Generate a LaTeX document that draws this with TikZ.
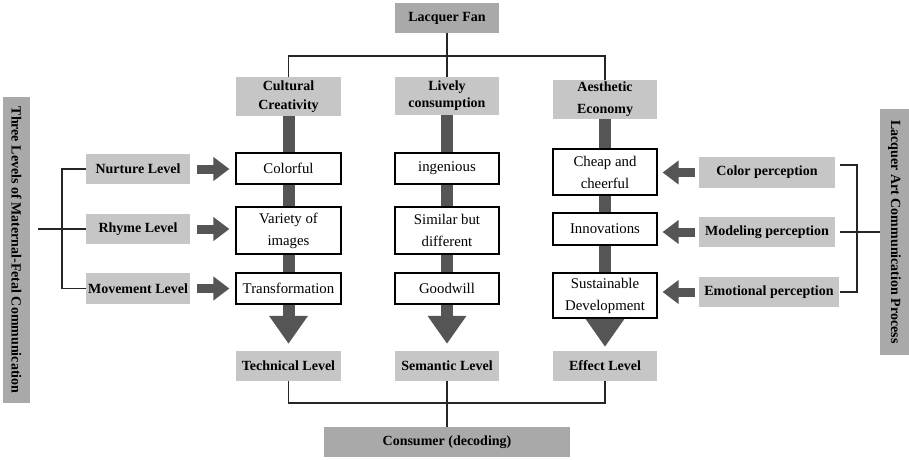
\documentclass[tikz,border=0pt]{standalone}
\usepackage{fontspec}
\setmainfont{Liberation Serif}
\usetikzlibrary{arrows.meta}
\definecolor{lgray}{HTML}{C6C6C6}
\definecolor{dgray}{HTML}{A9A9A9}
\definecolor{barc}{HTML}{555555}
\begin{document}
\begin{tikzpicture}[x=1pt,y=-1pt,
  gbox/.style={rectangle, fill=lgray, inner sep=0pt, align=center, font=\fontsize{14}{19}\selectfont\bfseries},
  dbox/.style={gbox, fill=dgray},
  wbox/.style={rectangle, draw=black, line width=1.2pt, fill=white, inner sep=0pt, align=center, font=\fontsize{14.8}{22}\selectfont},
  link/.style={line width=1.3pt, draw=black!85},
  barl/.style={line width=12pt, draw=barc},
  bigarrow/.style={line width=12pt, draw=barc, -{Triangle[width=37pt,length=28pt]}},
  sidearrow/.style={line width=9pt, draw=barc, -{Triangle[width=23pt,length=16pt]}}
]
\useasboundingbox (0,0) rectangle (909,459);
\fill[white] (0,0) rectangle (909,459);

% top
\node[dbox, minimum width=104pt, minimum height=30pt] (fan) at (447,18) {Lacquer Fan};
\node[gbox, minimum width=105pt, minimum height=39pt] (cc) at (288.5,96.5) {Cultural\\Creativity};
\node[gbox, minimum width=104pt, minimum height=38pt, font=\fontsize{14}{17}\selectfont\bfseries] (lc) at (447,96) {Lively\\consumption};
\node[gbox, minimum width=104pt, minimum height=39pt, font=\fontsize{14}{22}\selectfont\bfseries] (ae) at (605,99.5) {Aesthetic\\Economy};

% white boxes
\node[wbox, minimum width=105pt, minimum height=31pt] (colorful) at (288.5,168.5) {Colorful};
\node[wbox, minimum width=104pt, minimum height=31pt] (ingen) at (447,168.5) {ingenious};
\node[wbox, minimum width=104pt, minimum height=46pt] (cheap) at (605,172) {Cheap and\\cheerful};
\node[wbox, minimum width=105pt, minimum height=47pt] (variety) at (288.5,230.5) {Variety of\\images};
\node[wbox, minimum width=104pt, minimum height=47pt] (similar) at (447,230.5) {Similar but\\different};
\node[wbox, minimum width=104pt, minimum height=32pt] (innov) at (605,229) {Innovations};
\node[wbox, minimum width=105pt, minimum height=31pt] (trans) at (288.5,288.5) {Transformation};
\node[wbox, minimum width=104pt, minimum height=31pt] (goodwill) at (447,288.5) {Goodwill};
\node[wbox, minimum width=104pt, minimum height=45pt] (sust) at (605,295.5) {Sustainable\\Development};

% levels
\node[gbox, minimum width=105pt, minimum height=30pt] (tech) at (288.5,366) {Technical Level};
\node[gbox, minimum width=104pt, minimum height=30pt] (sem) at (447,366) {Semantic Level};
\node[gbox, minimum width=104pt, minimum height=30pt] (eff) at (605,366) {Effect Level};
\node[dbox, minimum width=246pt, minimum height=30pt] (cons) at (447,442) {Consumer (decoding)};

% left side
\node[gbox, minimum width=104pt, minimum height=30pt] (nurture) at (138,169) {Nurture Level};
\node[gbox, minimum width=104pt, minimum height=30pt] (rhyme) at (138,229) {Rhyme Level};
\node[gbox, minimum width=104pt, minimum height=31pt] (move) at (138,288.5) {Movement Level};
\node[dbox, minimum width=306pt, minimum height=27pt, rotate=-90] (leftlab) at (16.5,250) {Three Levels of Maternal-Fetal Communication};

% right side
\node[gbox, minimum width=136pt, minimum height=31pt] (colp) at (767,172.5) {Color perception};
\node[gbox, minimum width=136pt, minimum height=30pt] (modp) at (767,232) {Modeling perception};
\node[gbox, minimum width=140pt, minimum height=30pt] (emop) at (769,292) {Emotional perception};
\node[dbox, minimum width=246pt, minimum height=29pt, rotate=-90] (rightlab) at (894.5,232) {Lacquer Art Communication Process};

% top connectors
\coordinate (topj) at (447,56);
\draw[link] (fan.south) -- (lc.north);
\draw[link] (cc.north) |- (topj) -| (ae.north);

% bottom connectors
\coordinate (botj) at (447,403);
\draw[link] (tech.south) |- (botj) -| (eff.south);
\draw[link] (sem.south) -- (cons.north);

% bars
\draw[barl] (cc.south) -- (colorful.north);
\draw[barl] (colorful.south) -- (variety.north);
\draw[barl] (variety.south) -- (trans.north);
\draw[barl] (lc.south) -- (ingen.north);
\draw[barl] (ingen.south) -- (similar.north);
\draw[barl] (similar.south) -- (goodwill.north);
\draw[barl] (ae.south) -- (cheap.north);
\draw[barl] (cheap.south) -- (innov.north);
\draw[barl] (innov.south) -- (sust.north);

% big arrows
\draw[bigarrow, shorten >=7pt] (trans.south) -- (tech.north);
\draw[bigarrow, shorten >=7pt] (goodwill.south) -- (sem.north);
\draw[bigarrow, shorten >=4pt] (sust.south) -- (eff.north);

% side arrows left
\draw[sidearrow, shorten <=7pt, shorten >=6pt] (nurture.east) -- (nurture.east -| colorful.west);
\draw[sidearrow, shorten <=7pt, shorten >=6pt] (rhyme.east) -- (rhyme.east -| variety.west);
\draw[sidearrow, shorten <=7pt, shorten >=6pt] (move.east) -- (move.east -| trans.west);

% side arrows right
\draw[sidearrow, shorten <=4pt, shorten >=5pt] (colp.west) -- (colp.west -| cheap.east);
\draw[sidearrow, shorten <=4pt, shorten >=5pt] (modp.west) -- (modp.west -| innov.east);
\draw[sidearrow, shorten <=4pt, shorten >=5pt] (emop.west) -- (emop.west -| sust.east);

% left bracket
\coordinate (lv) at (62,229);
\coordinate (lstart) at (38,229);
\draw[link] (nurture.west) -| (lv) |- (move.west);
\draw[link] (lstart) -- (rhyme.west);

% right bracket
\coordinate (r1) at (840,165);
\coordinate (r3) at (840,292);
\coordinate (rv) at (857,232);
\draw[link] (r1) -| (rv) |- (r3);
\draw[link, shorten <=5pt] (modp.east) -- (rightlab.south |- modp.east);
\end{tikzpicture}
\end{document}
